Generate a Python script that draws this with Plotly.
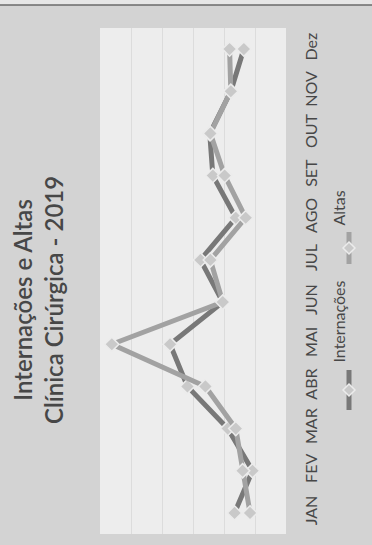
import plotly.graph_objects as go

W, H = 372, 545

# Monthly data (Clínica Cirúrgica, 2019)
meses = ["JAN", "FEV", "MAR", "ABR", "MAI", "JUN", "JUL", "AGO", "SET", "OUT", "NOV", "Dez"]
internacoes = [83, 54, 94, 159, 187, 102, 138, 81, 118, 123, 89, 68]
altas = [58, 70, 81, 130, 281, 102, 122, 65, 99, 122, 89, 91]

titulo = "Internações e Altas<br>Clínica Cirúrgica - 2019"
series = [
    ("Internações", internacoes, "#787878"),
    ("Altas", altas, "#a2a2a2"),
]

FONT = "Lato"
TEXT = "#474747"
MARKER = dict(symbol="diamond", size=11, color="#c9c9c9",
              line=dict(color="#ececec", width=1.5))


def px(x):
    return x / W


def py(y):
    return 1 - y / H


# plot area in pixels (left, top, right, bottom)
PL, PT, PR, PB = 100, 28, 286, 534

fig = go.Figure()
for nome, vals, cor in series:
    fig.add_trace(go.Scatter(
        x=vals, y=meses, mode="lines+markers", name=nome,
        line=dict(color=cor, width=5), marker=MARKER, showlegend=False,
    ))

shapes = [
    # light plot area
    dict(type="rect", xref="x domain", yref="y domain", x0=0, x1=1, y0=0, y1=1,
         fillcolor="#ededed", line=dict(width=0), layer="below"),
    # strip and rule along the top edge
    dict(type="rect", xref="paper", yref="paper", x0=0, x1=1, y0=py(5), y1=1,
         fillcolor="#e6e6e6", line=dict(width=0), layer="below"),
    dict(type="line", xref="paper", yref="paper", x0=0, x1=1, y0=py(5), y1=py(5),
         line=dict(color="#6a6a6a", width=1.5)),
]

annotations = [
    dict(text=titulo, x=px(38), y=py(300), xref="paper", yref="paper",
         showarrow=False, textangle=-90, xanchor="center", yanchor="middle",
         font=dict(family=FONT, size=24, color=TEXT, weight=600)),
]

# rotated legend: vertical line with diamond, text above it
LX = 349
legenda = {"Internações": (410, 370, 322), "Altas": (264, 232, 208)}
for nome, vals, cor in series:
    y0, y1, yt = legenda[nome]
    shapes.append(dict(type="line", xref="paper", yref="paper",
                       x0=px(LX), x1=px(LX), y0=py(y0), y1=py(y1),
                       line=dict(color=cor, width=5)))
    yc = (y0 + y1) / 2
    d = 6
    path = "M {} {} L {} {} L {} {} L {} {} Z".format(
        px(LX), py(yc - d), px(LX + d), py(yc), px(LX), py(yc + d), px(LX - d), py(yc))
    shapes.append(dict(type="path", xref="paper", yref="paper", path=path,
                       fillcolor="#c9c9c9", line=dict(color="#ececec", width=1.5)))
    annotations.append(dict(text=nome, x=px(LX), y=py(yt), xref="paper", yref="paper",
                            showarrow=False, textangle=-90,
                            font=dict(family=FONT, size=16, color=TEXT)))

fig.update_layout(
    width=W, height=H,
    margin=dict(l=0, r=0, t=0, b=0),
    paper_bgcolor="#d3d3d3", plot_bgcolor="#d3d3d3",
    shapes=shapes, annotations=annotations,
    xaxis=dict(domain=[px(PL), px(PR)], range=[300, 0], dtick=50,
               showgrid=True, gridcolor="#dcdcdc", gridwidth=1,
               showticklabels=False, zeroline=False, showline=False, ticks=""),
    yaxis=dict(domain=[py(PB), py(PT)], type="category",
               categoryorder="array", categoryarray=meses, range=[-0.5, 11.5],
               side="right", tickangle=-90, ticks="", ticklabelstandoff=14,
               showgrid=False, zeroline=False, showline=False,
               tickfont=dict(family=FONT, size=16, color=TEXT)),
    showlegend=False,
)

fig.write_html("out.html")
